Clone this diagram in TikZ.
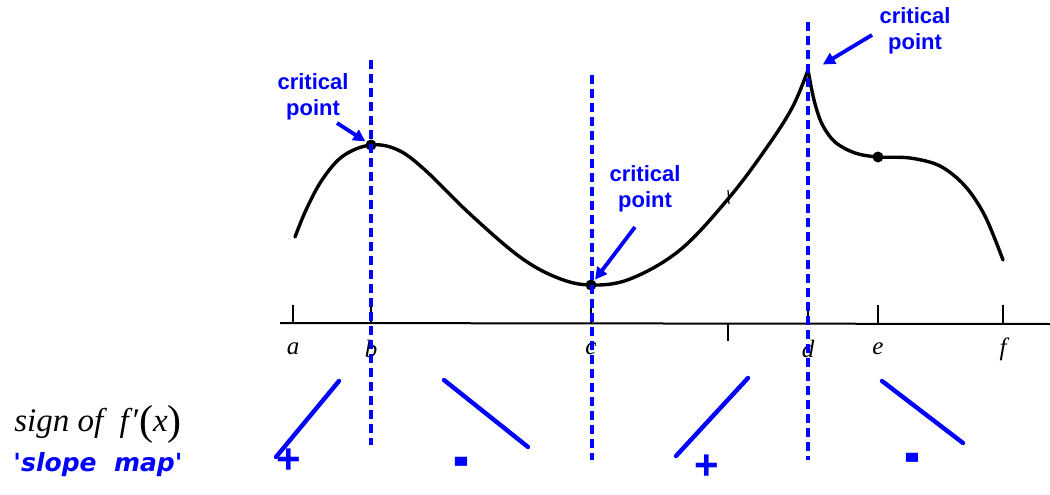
\documentclass[tikz,border=0pt]{standalone}
\usepackage{fontspec}
\setmainfont{Liberation Serif}
\setsansfont{Liberation Sans}
\newfontfamily\slopefont{DejaVu Sans}
\usetikzlibrary{arrows.meta, positioning}
\newcommand{\bigparen}[1]{\raisebox{-3pt}{\upshape\fontsize{42}{42}\selectfont #1}}

\begin{document}
\begin{tikzpicture}[
  x=1pt, y=-1pt,
  curve/.style={line width=3.4pt, line cap=round},
  divider/.style={blue, line width=3.4pt, dash pattern=on 9pt off 5pt},
  slope/.style={blue, line width=4.4pt, line cap=round},
  crit/.style={blue, font=\sffamily\bfseries\fontsize{22}{26}\selectfont, align=center, inner sep=0pt},
  cparrow/.style={blue, line width=3.8pt, -{Triangle[length=12pt, width=12pt]}, shorten >=1pt},
  sgn/.style={blue, font=\sffamily\bfseries\fontsize{42}{42}\selectfont, inner sep=0pt},
  minus/.style={blue, font=\sffamily\bfseries\fontsize{40}{40}\selectfont, inner sep=0pt},
  axtick/.style={line width=1.2pt},
  lbl/.style={font=\itshape\fontsize{25}{25}\selectfont, inner sep=0pt},
  dot/.style={circle, fill=black, inner sep=0pt, minimum size=11pt}
]
  \useasboundingbox (0,0) rectangle (1050,495);

  % axis with ticks and labels
  \coordinate (ax0) at (280,323);
  \coordinate (ax1) at (1050,324);
  \draw[line width=2pt] (ax0) -- (ax1);
  \foreach \x/\n in {293/a, 371/b, 591/c, 808/d, 878/e, 1003/f} {
    \draw[axtick] (\x,305) -- (\x,323);
    \node[lbl] (l\n) at (\x,349) {\n};
  }
  \draw[axtick] (728,323) -- (728,341);

  % the function
  \draw[curve] plot[smooth, tension=0.6] coordinates {(295,237) (306,210) (322,180) (343,156)
    (371,145) (398,150) (425,170) (470,214) (520,257) (558,278) (591,285) (630,279)
    (680,250) (728,199) (765,150) (792,108) (808,70)};
  \draw[curve] plot[smooth, tension=0.55] coordinates {(808,70) (814,100) (822,124) (835,142)
    (855,153) (878,157) (910,158) (940,166) (965,186) (985,216) (1003,260)};
  \draw[line width=1.2pt] (728,190) -- (729,204);

  \node[dot] (pb) at (371,145) {};
  \node[dot] (pc) at (591,285) {};
  \node[dot] (pe) at (878,157) {};
  \coordinate (pd) at (822,65);

  % dividers at the critical points
  \draw[divider] (371,60) -- (371,445);
  \draw[divider] (592,75) -- (592,460);
  \draw[divider] (808,22) -- (808,460);

  % critical point labels
  \node[crit] (cp1) at (313,97) {critical\\point};
  \node[crit] (cp2) at (645,189) {critical\\point};
  \node[crit] (cp3) at (915,31) {critical\\point};
  \coordinate (s1) at (337,123);
  \coordinate (s2) at (635,227);
  \coordinate (s3) at (872,35);
  \draw[cparrow] (s1) -- (pb);
  \draw[cparrow] (s2) -- (pc);
  \draw[cparrow] (s3) -- (pd);

  % slope map
  \node[font=\itshape\fontsize{33}{33}\selectfont, inner sep=0pt] (sign) at (98,424)
    {sign of \ f\kern2pt′\kern1pt\bigparen{(}x\bigparen{)}};
  \node[blue, font=\slopefont\bfseries\itshape\fontsize{25}{25}\selectfont, inner sep=0pt,
    below=9pt of sign] (smap) {\textquotesingle slope\ \ map\textquotesingle};

  \draw[slope] (276,457) -- (339,381);
  \draw[slope] (444,380) -- (528,447);
  \draw[slope] (676,456) -- (748,378);
  \draw[slope] (882,381) -- (963,443);
  \node[sgn] (sg1) at (289,461) {+};
  \node[minus] (sg2) at (461,469) {\scalebox{1.2}[1.9]{-}};
  \node[sgn] (sg3) at (707,467) {+};
  \node[minus] (sg4) at (912,465) {\scalebox{1.2}[1.9]{-}};
\end{tikzpicture}
\end{document}
